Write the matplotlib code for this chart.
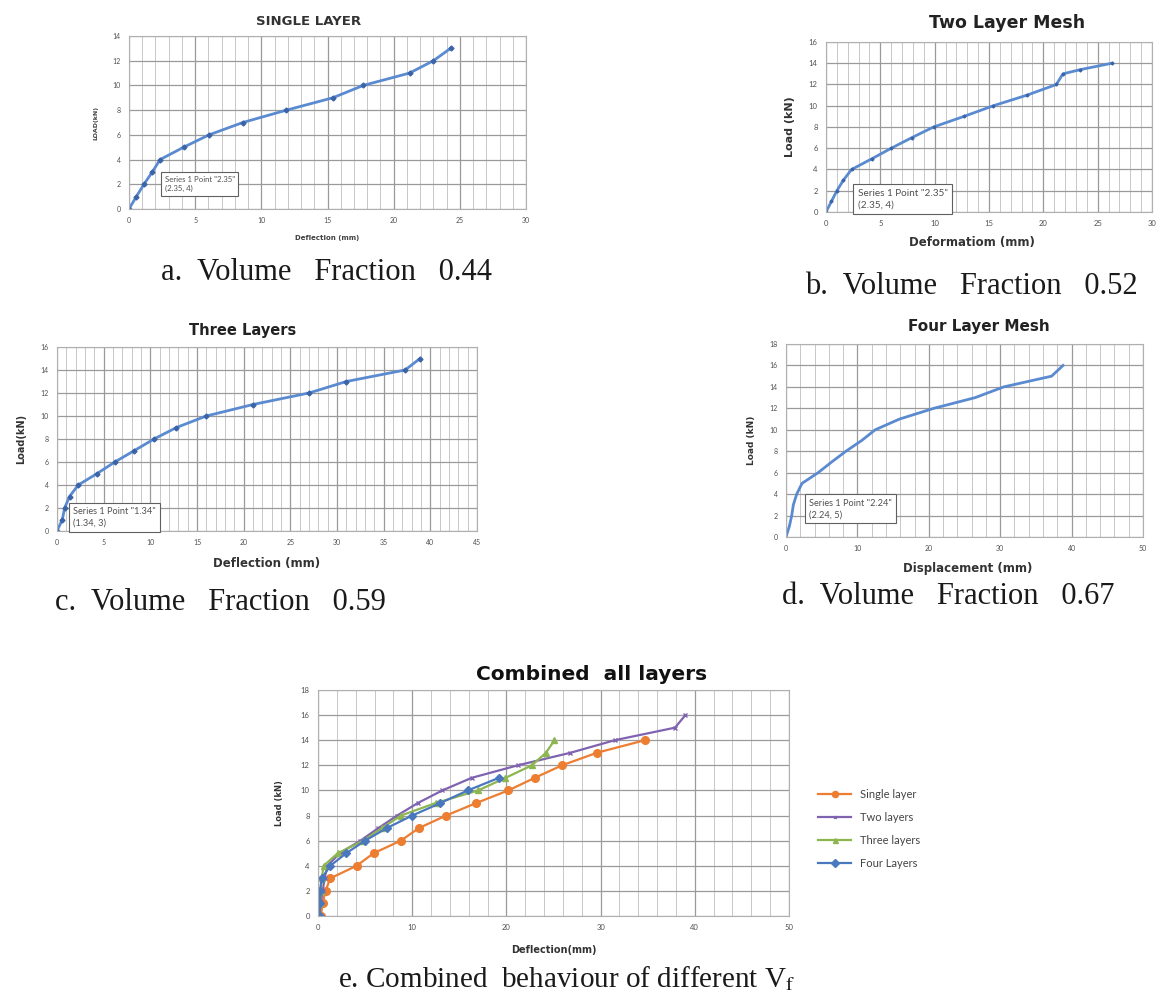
import matplotlib
matplotlib.use("Agg")
import matplotlib.pyplot as plt
from matplotlib.ticker import MultipleLocator

plt.rcParams['font.family'] = ['Lato', 'DejaVu Sans']
plt.rcParams['mathtext.fontset'] = 'stix'

# ---- data ----
single_x = [0, 0.55, 1.13, 1.76, 2.35, 4.13, 6.05, 8.6, 11.9, 15.4, 17.7, 21.2, 23.0, 24.3]
single_y = [0, 1, 2, 3, 4, 5, 6, 7, 8, 9, 10, 11, 12, 13]

two_x = [0, 0.5, 1.0, 1.6, 2.35, 4.2, 6.0, 7.9, 9.9, 12.7, 15.4, 18.5, 21.2, 21.8, 23.4, 26.3]
two_y = [0, 1, 2, 3, 4, 5, 6, 7, 8, 9, 10, 11, 12, 13, 13.4, 14]

three_x = [0, 0.57, 0.82, 1.34, 2.28, 4.3, 6.2, 8.3, 10.4, 12.8, 16.0, 21.0, 27.0, 31.0, 37.3, 38.9]
three_y = [0, 1, 2, 3, 4, 5, 6, 7, 8, 9, 10, 11, 12, 13, 14, 15]

four_x = [0, 0.47, 0.8, 1.03, 1.5, 2.24, 4.5, 6.4, 8.4, 10.6, 12.5, 15.9, 20.7, 26.5, 30.5, 37.2, 38.8]
four_y = [0, 1, 2, 3, 4, 5, 6, 7, 8, 9, 10, 11, 12, 13, 14, 15, 16]

# combined chart series
c_single_x = [0.3, 0.5, 0.8, 1.3, 4.1, 5.9, 8.8, 10.7, 13.6, 16.8, 20.2, 23.0, 25.9, 29.6, 34.7]
c_single_y = [0, 1, 2, 3, 4, 5, 6, 7, 8, 9, 10, 11, 12, 13, 14]
c_two_x = [0, 0.3, 0.5, 0.7, 1.0, 2.3, 4.5, 6.4, 8.4, 10.6, 13.2, 16.3, 21.2, 26.8, 31.5, 37.9, 39.0]
c_two_y = [0, 1, 2, 3, 4, 5, 6, 7, 8, 9, 10, 11, 12, 13, 14, 15, 16]
c_three_x = [0, 0.2, 0.3, 0.4, 0.6, 2.1, 4.8, 6.8, 8.8, 12.5, 17.0, 19.9, 22.7, 24.2, 25.1]
c_three_y = [0, 1, 2, 3, 4, 5, 6, 7, 8, 9, 10, 11, 12, 13, 14]
c_four_x = [0.2, 0.2, 0.2, 0.4, 1.3, 3.0, 5.0, 7.3, 10.0, 13.0, 15.9, 19.2]
c_four_y = [0, 1, 2, 3, 4, 5, 6, 7, 8, 9, 10, 11]

legend_labels = ["Single layer", "Two layers", "Three layers", "Four Layers"]

W, H = 1169, 1001
fig = plt.figure(figsize=(W / 100, H / 100), dpi=100)

def box(l, r, t, b):
    return [l / W, 1 - b / H, (r - l) / W, (b - t) / H]

LINE = '#5A8AD0'
MARK = '#3B64A8'
TICKC = '#505050'
BOLD = dict(family='DejaVu Sans', fontweight='bold')

def style(ax, xmax, xmaj, xmin, ymax, ticksize=5.5):
    ax.set_xlim(0, xmax)
    ax.set_ylim(0, ymax)
    ax.xaxis.set_major_locator(MultipleLocator(xmaj))
    ax.xaxis.set_minor_locator(MultipleLocator(xmin))
    ax.yaxis.set_major_locator(MultipleLocator(2))
    ax.grid(True, which='major', color='#9A9A9A', lw=0.9)
    ax.grid(True, which='minor', axis='x', color='#C8C8C8', lw=0.7)
    ax.set_axisbelow(True)
    for s in ax.spines.values():
        s.set_color('#B0B0B0')
        s.set_linewidth(0.8)
    ax.tick_params(which='both', length=0, labelsize=ticksize, colors=TICKC, pad=6)

def note(ax, txt, xy, size=4.8):
    ax.text(xy[0], xy[1], txt, fontsize=size, color='#505050', va='bottom', ha='left',
            transform=ax.transData, linespacing=1.4,
            bbox=dict(boxstyle='square,pad=0.45', fc='white', ec='#606060', lw=0.8))

CAP = dict(family='Liberation Serif', fontsize=22, va='center', ha='left', color='#1a1a1a')

# ---- a ----
axa = fig.add_axes(box(129, 526, 36, 209))
style(axa, 30, 5, 1, 14, 5)
axa.plot(single_x, single_y, color=LINE, lw=2.0, marker='D', ms=2.5, mfc=MARK, mec=MARK)
axa.set_title("SINGLE LAYER", fontsize=9.5, color='#333333', pad=8, x=0.453, **BOLD)
axa.set_xlabel("Deflection (mm)", fontsize=5, color='#404040', labelpad=8, **BOLD)
axa.set_ylabel("LOAD(kN)", fontsize=4.5, color='#404040', labelpad=10, **BOLD)
note(axa, 'Series 1 Point "2.35"\n(2.35, 4)', (2.7, 1.35), 5.6)
fig.text(161 / W, 1 - 273 / H, "a.  Volume   Fraction   0.44", **CAP)

# ---- b ----
axb = fig.add_axes(box(826, 1152, 42, 212))
style(axb, 30, 5, 1, 16, 5.5)
axb.plot(two_x, two_y, color=LINE, lw=2.0, marker='D', ms=1.5, mfc=MARK, mec=MARK)
axb.set_title("Two Layer Mesh", fontsize=12.5, color='#222222', pad=10, x=0.555, **BOLD)
axb.set_xlabel("Deformatiom (mm)", fontsize=8.5, color='#333333', labelpad=6, x=0.448, **BOLD)
axb.set_ylabel("Load (kN)", fontsize=8, color='#333333', labelpad=10, **BOLD)
note(axb, 'Series 1 Point "2.35"\n(2.35, 4)', (2.9, 0.25), 7.2)
fig.text(805 / W, 1 - 287 / H, "b.  Volume   Fraction   0.52", **CAP)

# ---- c ----
axc = fig.add_axes(box(57, 477, 347, 531))
style(axc, 45, 5, 1, 16, 5)
axc.plot(three_x, three_y, color=LINE, lw=2.0, marker='D', ms=2.5, mfc=MARK, mec=MARK)
axc.set_title("Three Layers", fontsize=10.5, color='#222222', pad=9, x=0.443, **BOLD)
axc.set_xlabel("Deflection (mm)", fontsize=8.5, color='#333333', labelpad=8, **BOLD)
axc.set_ylabel("Load(kN)", fontsize=7, color='#333333', labelpad=10, **BOLD)
note(axc, 'Series 1 Point "1.34"\n(1.34, 3)', (1.7, 0.3), 6.6)
fig.text(55 / W, 1 - 603 / H, "c.  Volume   Fraction   0.59", **CAP)

# ---- d ----
axd = fig.add_axes(box(786, 1143, 344, 537))
style(axd, 50, 10, 2, 18, 5)
axd.plot(four_x, four_y, color=LINE, lw=2.0)
axd.set_title("Four Layer Mesh", fontsize=11, color='#222222', pad=9, x=0.541, **BOLD)
axd.set_xlabel("Displacement (mm)", fontsize=8.5, color='#333333', labelpad=7, x=0.51, **BOLD)
axd.set_ylabel("Load (kN)", fontsize=6.5, color='#333333', labelpad=10, **BOLD)
note(axd, 'Series 1 Point "2.24"\n(2.24, 5)', (3.2, 1.65), 6.6)
fig.text(782 / W, 1 - 596 / H, "d.  Volume   Fraction   0.67", **CAP)

# ---- e ----
axe = fig.add_axes(box(318, 789, 690, 916))
style(axe, 50, 10, 2, 18, 5.5)
axe.plot(c_single_x, c_single_y, color='#ED7D31', lw=1.6, marker='o', ms=5.5,
         label=legend_labels[0])
axe.plot(c_two_x, c_two_y, color='#7F63B0', lw=1.6, marker='x', ms=2.5,
         label=legend_labels[1])
axe.plot(c_three_x, c_three_y, color='#8DB651', lw=1.6, marker='^', ms=4.5,
         label=legend_labels[2])
axe.plot(c_four_x, c_four_y, color='#4A78BE', lw=1.6, marker='D', ms=4.5,
         label=legend_labels[3])
axe.set_title("Combined  all layers", fontsize=14.5, color='#111111', pad=7, x=0.58, **BOLD)
axe.set_xlabel("Deflection(mm)", fontsize=7, color='#333333', labelpad=10, **BOLD)
axe.set_ylabel("Load (kN)", fontsize=6, color='#333333', labelpad=12, **BOLD)
leg = axe.legend(loc='center left', bbox_to_anchor=(1.04, 0.385), frameon=False,
                 fontsize=8, handlelength=3.0, labelspacing=1.1, markerscale=0.8)
for t in leg.get_texts():
    t.set_color('#444444')
fig.text(338 / W, 1 - 979 / H, r"e. Combined  behaviour of different V$_\mathrm{f}$",
         family='Liberation Serif', fontsize=21, va='center', ha='left', color='#1a1a1a')

fig.savefig("out.png", dpi=100, facecolor='white')
